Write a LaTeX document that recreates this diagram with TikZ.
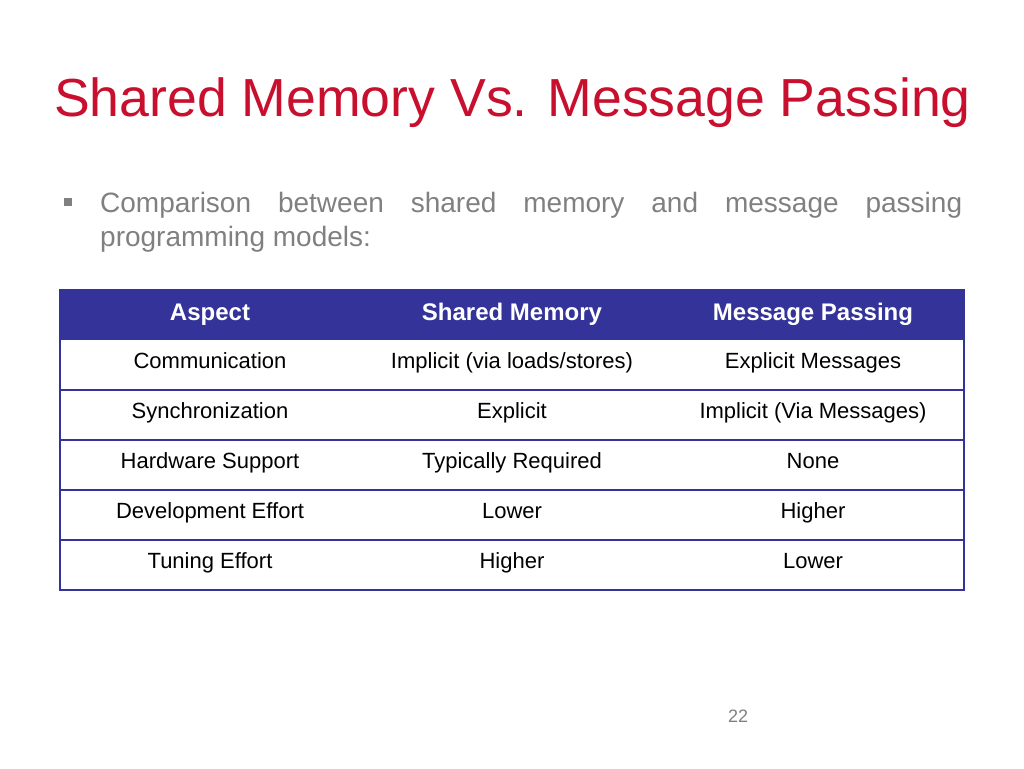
\documentclass[tikz,border=0pt]{standalone}
\usepackage{fontspec}
\setmainfont{Liberation Sans}
\usepackage{xcolor}
\usetikzlibrary{positioning}
\definecolor{titlered}{HTML}{C8102E}
\definecolor{headblue}{HTML}{333399}
\definecolor{textgray}{HTML}{808080}
\tikzset{
  cell/.style={font=\fontsize{22}{26}\selectfont, anchor=base},
  headcell/.style={cell, text=white, font=\fontsize{24}{28}\selectfont\bfseries},
  rowline/.style={draw=headblue, line width=1.2pt}
}
\begin{document}
\begin{tikzpicture}[x=1pt,y=-1pt]
  \useasboundingbox (0,0) rectangle (1024,768);
  % title and bullet
  \node[anchor=base west, text=titlered, font=\fontsize{53.6}{60}\selectfont, inner sep=0] (title) at (54,116) {Shared Memory Vs. Message Passing};
  \fill[textgray] (64,198) rectangle (72,206);
  \node[anchor=base west, text=textgray, inner sep=0, font=\fontsize{28}{34}\selectfont] (intro1) at (100,212)
        {\hbox to 862pt{Comparison\hfil between\hfil shared\hfil memory\hfil and\hfil message\hfil passing}};
  \node[anchor=base west, text=textgray, inner sep=0, font=\fontsize{28}{34}\selectfont] (intro2) at (100,246)
        {programming models:};
  % table
  \fill[headblue] (60,290) rectangle (964,340);
  \node[headcell] (h1) at (210,320) {Aspect};
  \node[headcell] (h2) at (512,320) {Shared Memory};
  \node[headcell] (h3) at (813,320) {Message Passing};
  \foreach \y/\a/\b/\c [count=\i] in {
    360/Communication/Implicit (via loads\slash stores)/Explicit Messages,
    410/Synchronization/Explicit/Implicit (Via Messages),
    460/Hardware Support/Typically Required/None,
    510/Development Effort/Lower/Higher,
    560/Tuning Effort/Higher/Lower}{
    \node[cell] (r\i a) at (210,\y+8) {\a};
    \node[cell] (r\i b) at (512,\y+8) {\b};
    \node[cell] (r\i c) at (813,\y+8) {\c};
    \draw[rowline] (60,\y+30) -- (964,\y+30);
  }
  \draw[rowline] (60,290) rectangle (964,590);
  % page number
  \node[text=textgray, font=\fontsize{18}{20}\selectfont] (page) at (738,716) {22};
\end{tikzpicture}
\end{document}
